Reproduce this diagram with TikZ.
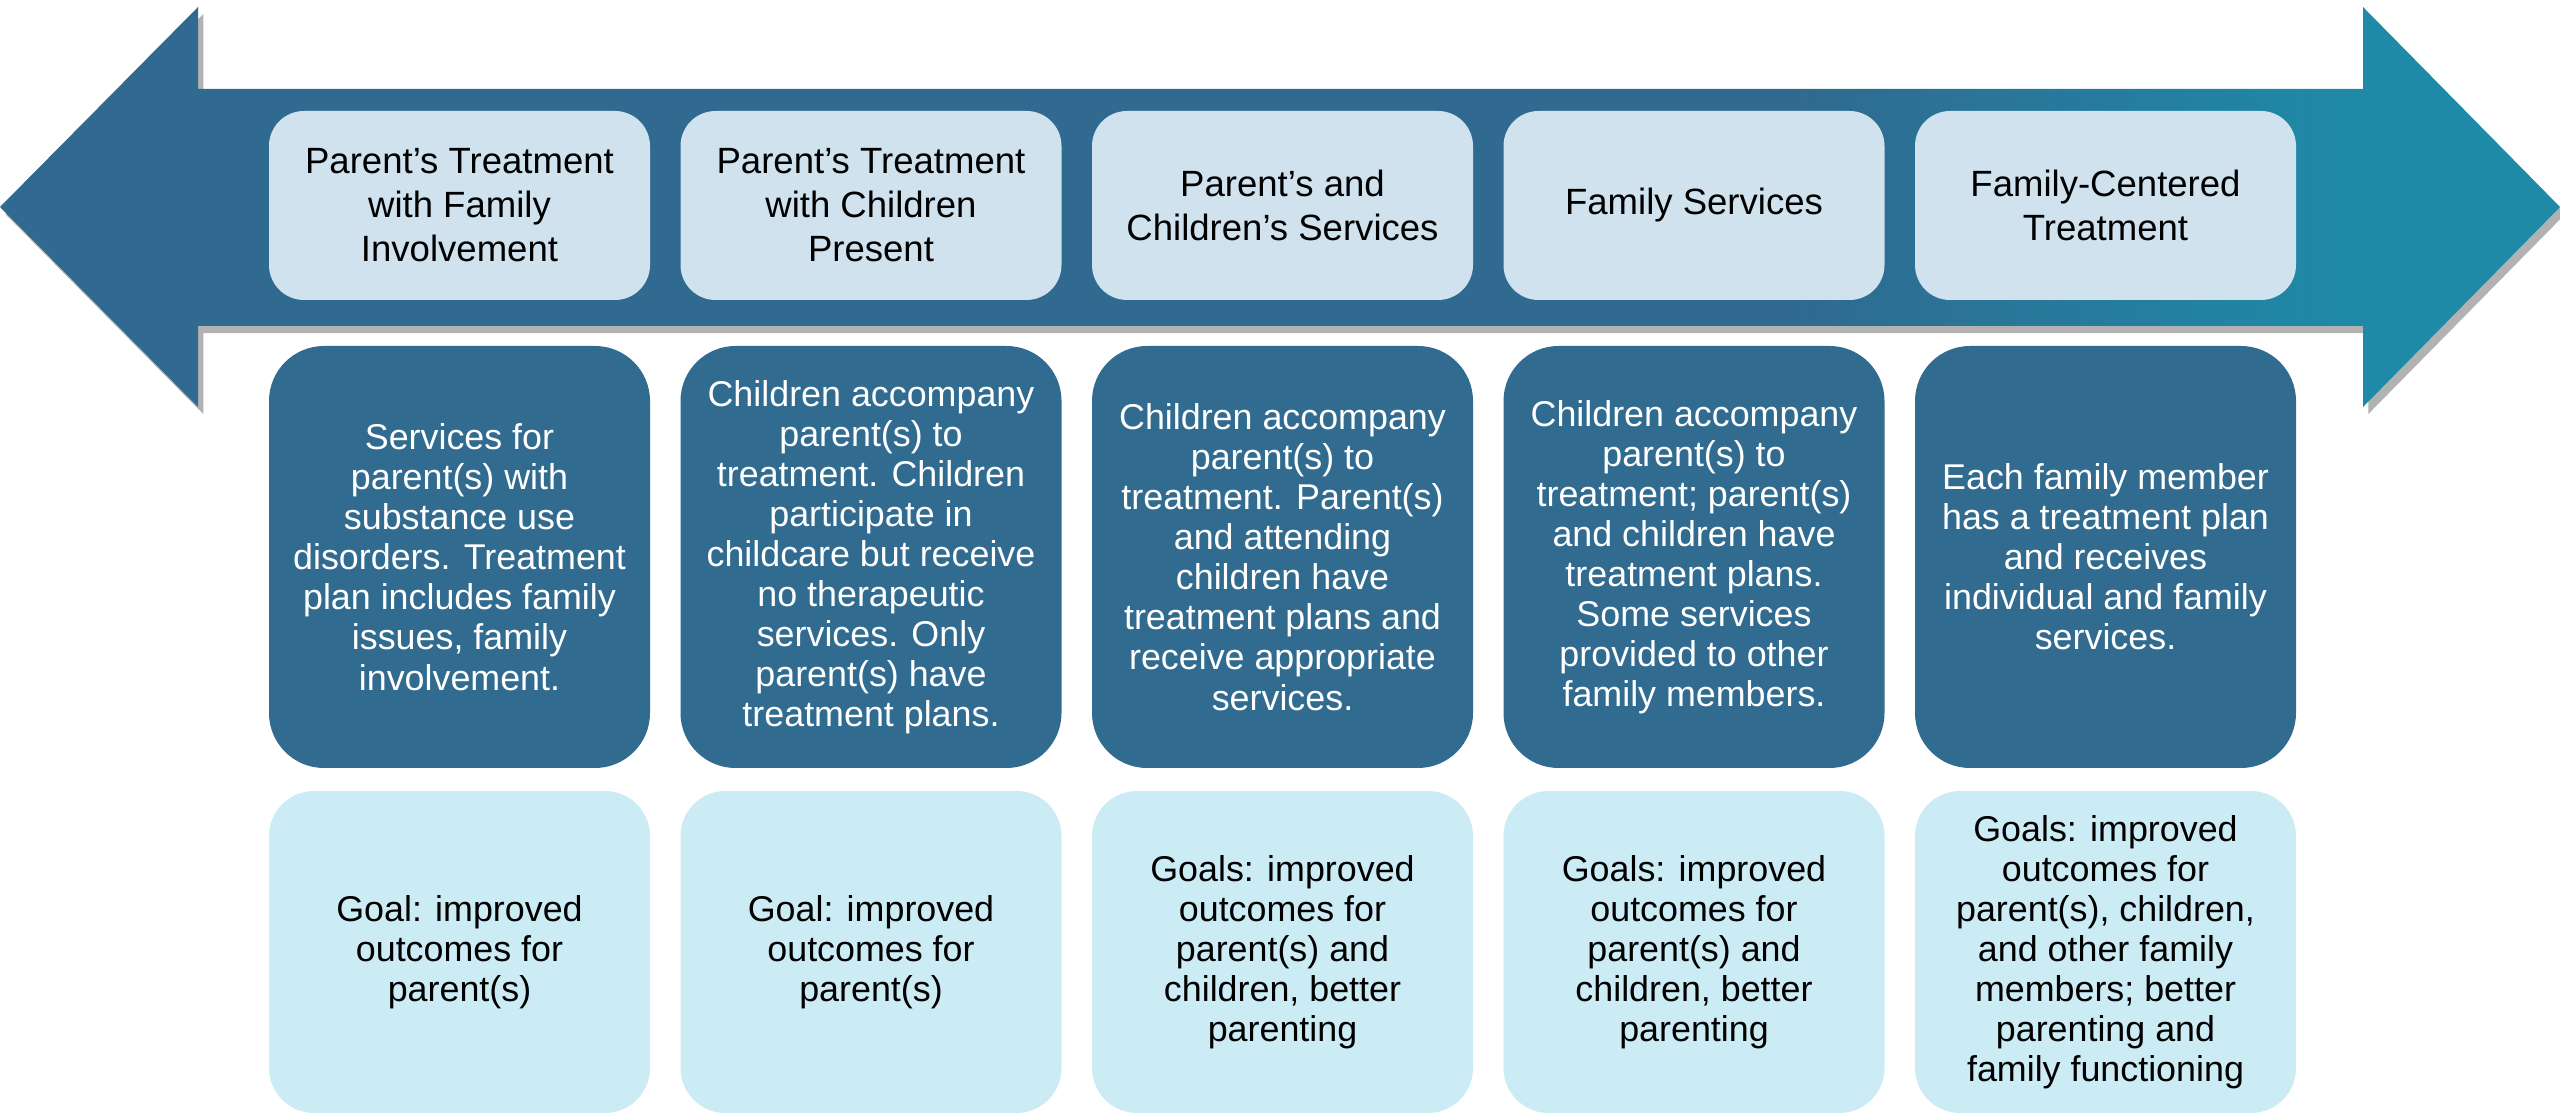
\documentclass[tikz,border=0pt]{standalone}
\usepackage{fontspec}
\setmainfont{Liberation Sans}
\usetikzlibrary{shadows}
\definecolor{arrow dark}{RGB}{48,106,144}
\definecolor{arrow teal}{RGB}{30,138,168}
\definecolor{stage fill}{RGB}{207,226,237}
\definecolor{detail fill}{RGB}{49,107,144}
\definecolor{goal fill}{RGB}{204,236,245}
\pgfdeclarehorizontalshading{arrow shade}{100bp}{color(0bp)=(arrow dark); color(25bp)=(arrow dark); color(60bp)=(arrow dark); color(71bp)=(arrow teal); color(100bp)=(arrow teal)}

\begin{document}
\begin{tikzpicture}[
					stage box/.style={fill=stage fill, rounded corners=0.35cm, minimum width=3.81cm, minimum height=1.89cm, inner sep=0pt, align=center, font=\fontsize{10.4pt}{12.5pt}\selectfont},
					detail box/.style={fill=detail fill, text=white, rounded corners=0.55cm, minimum width=3.81cm, minimum height=4.22cm, inner sep=0pt, align=center, font=\fontsize{10.2pt}{11.4pt}\selectfont},
					goal box/.style={fill=goal fill, rounded corners=0.45cm, minimum width=3.81cm, minimum height=3.22cm, inner sep=0pt, align=center, font=\fontsize{10.2pt}{11.4pt}\selectfont},
				]
					\useasboundingbox (0,0) rectangle (25.6,11.14);

					% double arrow behind the stages
					\path[shading=arrow shade, drop shadow={shadow xshift=1.5pt, shadow yshift=-2pt, opacity=0.3, fill=black}]
						(0,9.07) -- (1.98,11.07) -- (1.98,10.25) -- (23.63,10.25) -- (23.63,11.07) -- (25.6,9.07)
						-- (23.63,7.07) -- (23.63,7.88) -- (1.98,7.88) -- (1.98,7.07) -- cycle;

					\node[stage box] (involve) at (4.595,9.085) {Parent’s Treatment\\with Family\\Involvement};
					\node[stage box] (present) at (8.71,9.085) {Parent’s Treatment\\with Children\\Present};
					\node[stage box] (services) at (12.825,9.085) {Parent’s and\\Children’s Services};
					\node[stage box] (family) at (16.94,9.085) {Family Services};
					\node[stage box] (centered) at (21.055,9.085) {Family-Centered\\Treatment};

					\node[detail box] (involve detail) at (4.595,5.57) {Services for\\parent(s) with\\substance use\\disorders. Treatment\\plan includes family\\issues, family\\involvement.};
					\node[detail box] (present detail) at (8.71,5.57) {Children accompany\\parent(s) to\\treatment. Children\\participate in\\childcare but receive\\no therapeutic\\services. Only\\parent(s) have\\treatment plans.};
					\node[detail box] (services detail) at (12.825,5.57) {Children accompany\\parent(s) to\\treatment. Parent(s)\\and attending\\children have\\treatment plans and\\receive appropriate\\services.};
					\node[detail box] (family detail) at (16.94,5.57) {Children accompany\\parent(s) to\\treatment; parent(s)\\and children have\\treatment plans.\\Some services\\provided to other\\family members.};
					\node[detail box] (centered detail) at (21.055,5.57) {Each family member\\has a treatment plan\\and receives\\individual and family\\services.};

					\node[goal box] (involve goal) at (4.595,1.62) {Goal: improved\\outcomes for\\parent(s)};
					\node[goal box] (present goal) at (8.71,1.62) {Goal: improved\\outcomes for\\parent(s)};
					\node[goal box] (services goal) at (12.825,1.62) {Goals: improved\\outcomes for\\parent(s) and\\children, better\\parenting};
					\node[goal box] (family goal) at (16.94,1.62) {Goals: improved\\outcomes for\\parent(s) and\\children, better\\parenting};
					\node[goal box] (centered goal) at (21.055,1.62) {Goals: improved\\outcomes for\\parent(s), children,\\and other family\\members; better\\parenting and\\family functioning};
				\end{tikzpicture}
\end{document}
